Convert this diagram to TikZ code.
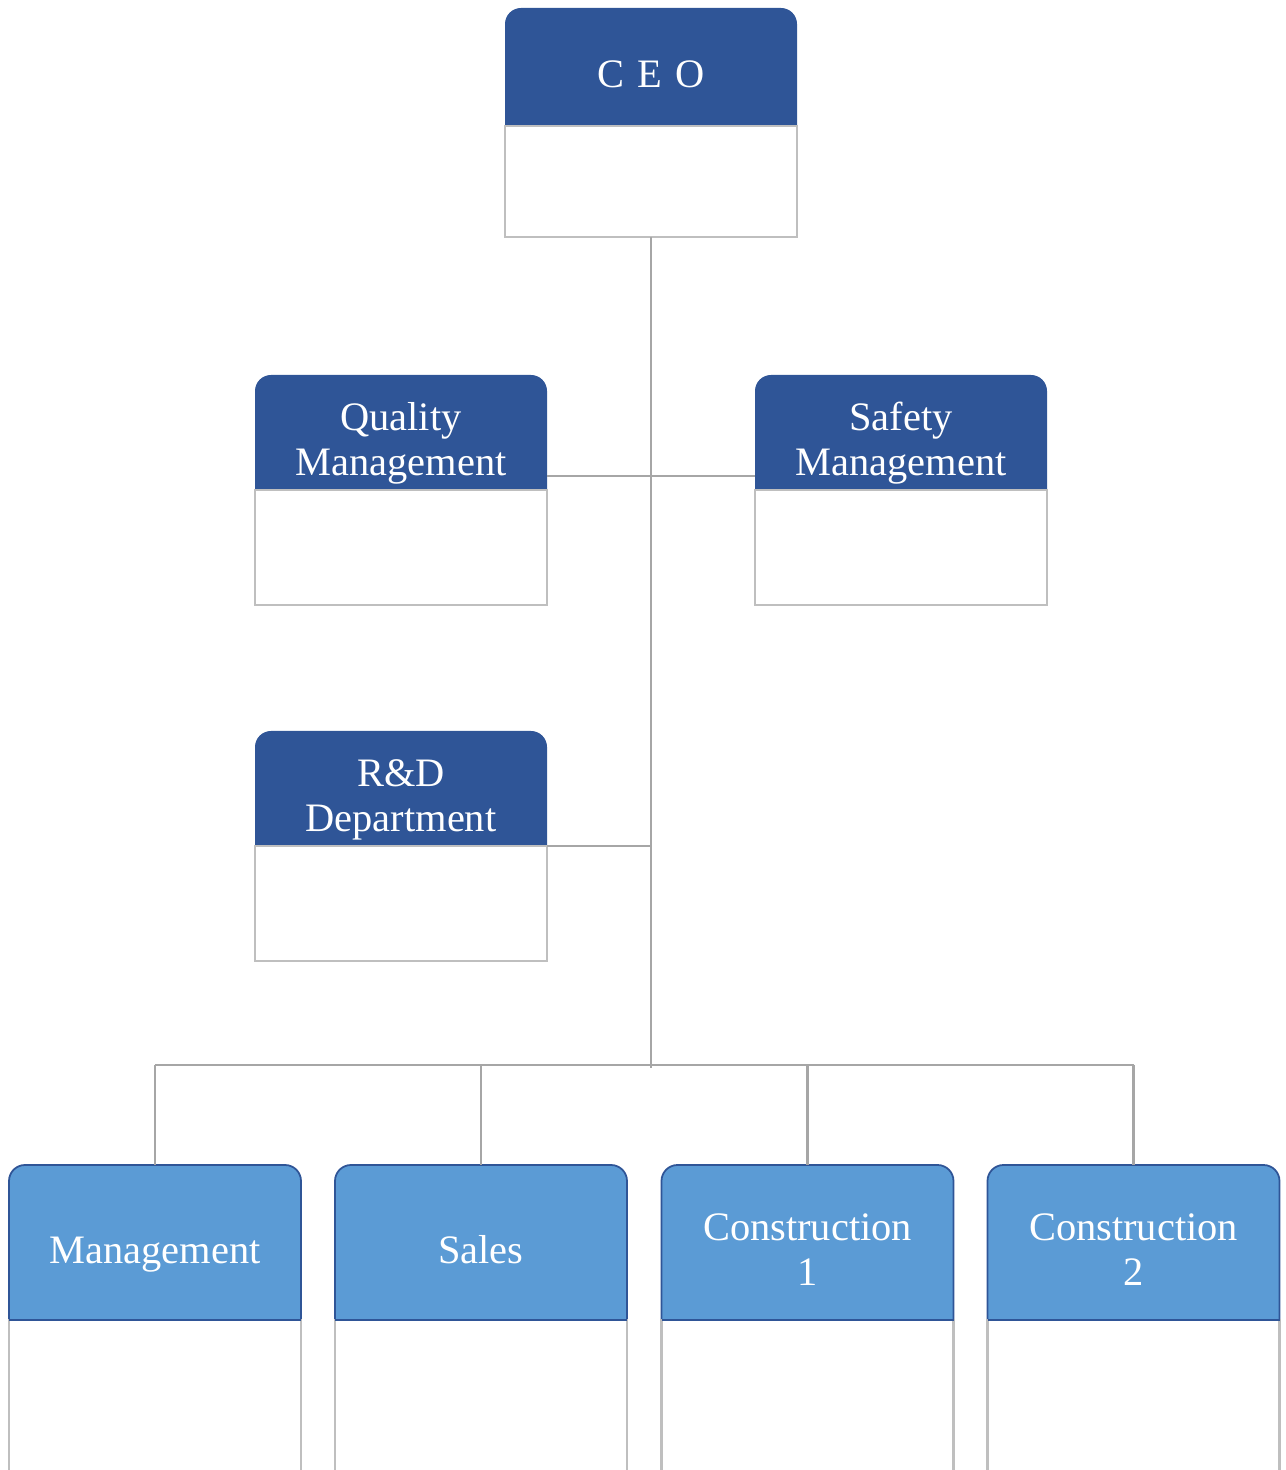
\documentclass[tikz,border=0pt]{standalone}
\usepackage{fontspec}
\setmainfont{Liberation Serif}
\usetikzlibrary{positioning,backgrounds}

\definecolor{navy}{HTML}{2F5597}
\definecolor{skyblue}{HTML}{5B9BD5}
\definecolor{linegray}{HTML}{A6A6A6}
\definecolor{boxgray}{HTML}{BFBFBF}

\begin{document}
\begin{tikzpicture}[
    hdr/.style={minimum width=5.84cm, minimum height=2.3cm, inner sep=0, outer sep=0,
        text=white, text width=5.84cm, align=center, font=\fontsize{23}{25.5}\selectfont,
        execute at begin node={\noindent\rule{0pt}{1.25em}},
        execute at end node={\rule[-0.22em]{0pt}{0pt}}},
    bodybox/.style={draw=boxgray, line width=1.2pt, minimum width=5.84cm,
        minimum height=2.3cm, inner sep=0, outer sep=0},
    connector/.style={draw=linegray, line width=1.2pt}
]
    \path[use as bounding box] (0,0) rectangle (25.72,29.4);
    \clip (0,0) rectangle (25.72,29.4);

    % CEO
    \node[hdr, minimum height=2.36cm] (ceo) at (13.02,28.06) {C E O};
    \node[bodybox, minimum height=2.22cm, below=0pt of ceo] (ceob) {};

    % Quality / Safety
    \node[hdr] (qm) at (8.02,20.75) {Quality\\Management};
    \node[bodybox, below=0pt of qm] (qmb) {};
    \node[hdr] (sm) at (18.02,20.75) {Safety\\Management};
    \node[bodybox, below=0pt of sm] (smb) {};

    % R&D
    \node[hdr] (rd) at (8.02,13.63) {R\&D\\Department};
    \node[bodybox, below=0pt of rd] (rdb) {};

    % Departments
    \node[hdr, minimum height=3.1cm] (mg) at (3.1,4.55) {Management};
    \node[hdr, minimum height=3.1cm] (sl) at (9.62,4.55) {Sales};
    \node[hdr, minimum height=3.1cm] (c1) at (16.15,4.55) {Construction\\1};
    \node[hdr, minimum height=3.1cm] (c2) at (22.67,4.55) {Construction\\2};
    \foreach \n in {mg,sl,c1,c2} {
        \node[bodybox, minimum height=3.3cm, below=0pt of \n] (\n b) {};
        \draw[navy, line width=1pt] (\n.south west) -- (\n.south east);
    }

    % header shapes
    \begin{scope}[on background layer]
        \foreach \n in {ceo,qm,sm,rd}
            \fill[navy, rounded corners=0.32cm] (\n.south west) -- (\n.north west) -- (\n.north east) -- (\n.south east);
        \foreach \n in {mg,sl,c1,c2}
            \filldraw[fill=skyblue, draw=navy, line width=1pt, rounded corners=0.32cm] (\n.south west) -- (\n.north west) -- (\n.north east) -- (\n.south east);
    \end{scope}

    % Lines
    \coordinate (bus) at (13.02,8.1);
    \draw[connector] (ceob.south) -- ([yshift=-0.06cm]bus);
    \draw[connector] ([yshift=0.28cm]qm.south east) -- ([yshift=0.28cm]sm.south west);
    \draw[connector] (rd.south east) -- (rd.south east -| ceob.south);
    \draw[connector] (mg.north |- bus) -- (c2.north |- bus);
    \foreach \n in {mg,sl,c1,c2}
        \draw[connector] (\n.north |- bus) -- (\n.north);
\end{tikzpicture}
\end{document}
